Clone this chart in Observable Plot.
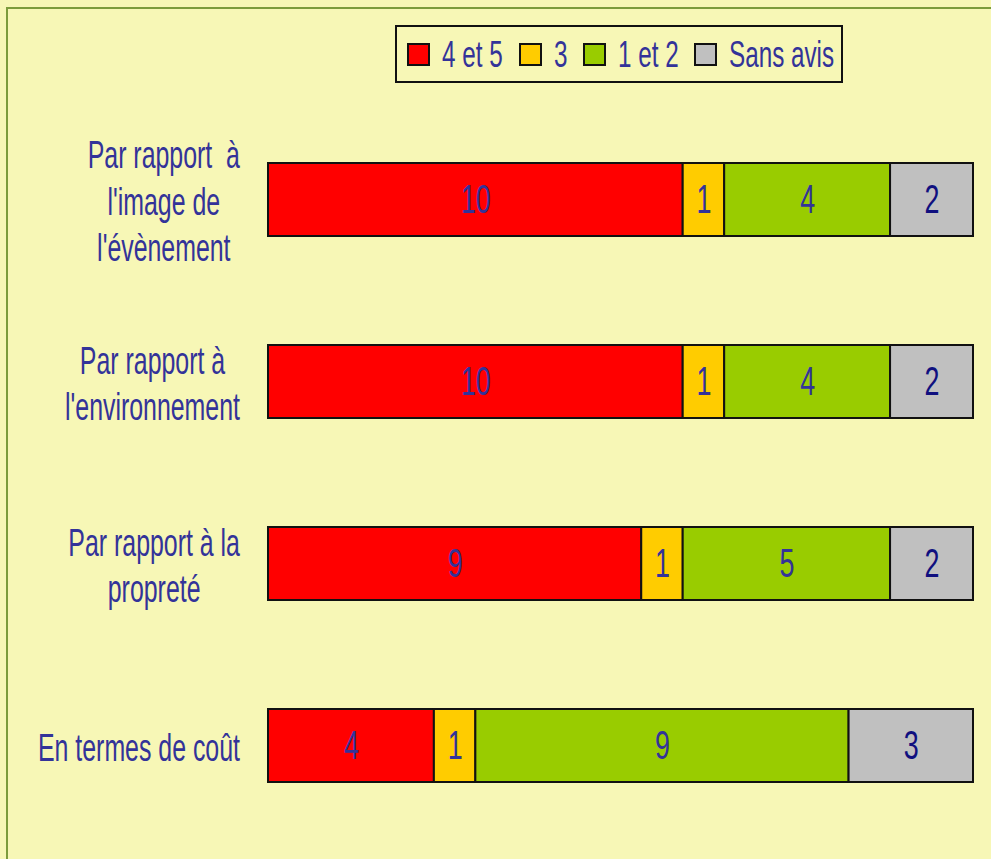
<!DOCTYPE html>
<html>
<head>
<meta charset="utf-8">
<script src="https://cdn.jsdelivr.net/npm/d3@7"></script>
<script src="https://cdn.jsdelivr.net/npm/@observablehq/plot@0.6"></script>
<style>
  html, body { margin: 0; padding: 0; background: #F7F7B6; }
  #wrap { position: relative; width: 991px; height: 859px; overflow: hidden; background: #F7F7B6; }
  #frame { position: absolute; left: 6px; top: 7px; width: 1200px; height: 1200px; border-left: 2px solid #7C9C3C; border-top: 2px solid #7C9C3C; box-sizing: border-box; }
  #chart { position: absolute; left: 0; top: 0; }
  #legend { position: absolute; left: 395px; top: 25px; width: 448px; height: 58px; box-sizing: border-box; border: 2px solid #111; display: flex; align-items: center; padding-left: 10px; font-family: "Liberation Sans", Arial, sans-serif; font-size: 37px; color: #333399; }
  .item { display: flex; align-items: center; margin-right: 16px; }
  .sw { width: 23px; height: 23px; box-sizing: border-box; border: 2px solid #111; margin-right: 12px; }
  .lt { display: inline-block; transform-origin: left center; white-space: pre; line-height: 1; }
</style>
</head>
<body>
<div id="wrap">
  <div id="frame"></div>
  <div id="chart"></div>
  <div id="legend"></div>
</div>
<script>
const categories = [
  "Par rapport  à\nl'image de\nl'évènement",
  "Par rapport à\nl'environnement",
  "Par rapport à la\npropreté",
  "En termes de coût"
];
const series = ["4 et 5", "3", "1 et 2", "Sans avis"];
const colors = ["#FF0000", "#FFCC00", "#99CC00", "#C0C0C0"];
const values45 = [10, 10, 9, 4];
const values3 = [1, 1, 1, 1];
const values12 = [4, 4, 5, 9];
const valuesSans = [2, 2, 2, 3];

const FONT = '"Liberation Sans", Arial, sans-serif';
const AXIS_FONT_SIZE = 38;

// horizontal squeeze so that the typeface looks condensed like the reference
const ctx = document.createElement("canvas").getContext("2d");
ctx.font = `${AXIS_FONT_SIZE}px ${FONT}`;
const SQUEEZE = 175 / ctx.measureText("l'environnement").width;

const seriesValues = [values45, values3, values12, valuesSans];
const data = [];
categories.forEach((c, i) => {
  series.forEach((s, j) => data.push({cat: c, series: s, value: seriesValues[j][i]}));
});

const chart = Plot.plot({
  width: 991,
  height: 859,
  marginLeft: 268,
  marginRight: 18,
  marginTop: 108,
  marginBottom: 23,
  style: {background: "transparent", fontFamily: FONT, color: "#333399", overflow: "visible"},
  x: {domain: [0, 17], axis: null},
  y: {domain: categories, paddingInner: 0.6, paddingOuter: 0.3, axis: null},
  color: {domain: series, range: colors},
  marks: [
    Plot.barX(data, Plot.stackX({x: "value", y: "cat", fill: "series", stroke: "#111", strokeWidth: 2})),
    Plot.text(data, Plot.stackX({x: "value", y: "cat", z: "series",
      text: d => d.series !== "Sans avis" ? String(d.value) : "", fill: "#333399", fontSize: 41})),
    Plot.text(data, Plot.stackX({x: "value", y: "cat", z: "series",
      text: d => d.series === "Sans avis" ? String(d.value) : "", fill: "#10107F", fontSize: 41})),
    Plot.axisY({tickSize: 0, textAnchor: "middle", lineHeight: 1.22, fontSize: AXIS_FONT_SIZE, fill: "#333399", label: null, tickPadding: 0})
  ]
});
document.getElementById("chart").appendChild(chart);

// narrow the glyphs horizontally
chart.querySelectorAll("text").forEach(t => {
  const x = +(t.getAttribute("x") || 0);
  const T = t.getAttribute("transform") || "";
  t.setAttribute("transform", `${T} translate(${x},0) scale(${SQUEEZE},1) translate(${-x},0)`);
});

// align y tick labels: centered lines, block right edge at 240
const svgLeft = chart.getBoundingClientRect().left;
chart.querySelectorAll('g[aria-label="y-axis tick label"] text').forEach(t => {
  const r = t.getBoundingClientRect();
  const dx = 240 - (r.right - svgLeft);
  t.setAttribute("transform", `translate(${dx},0) ` + t.getAttribute("transform"));
});

// legend
const legend = document.getElementById("legend");
series.forEach((s, i) => {
  const item = document.createElement("div");
  item.className = "item";
  const sw = document.createElement("div");
  sw.className = "sw";
  sw.style.background = colors[i];
  const lt = document.createElement("span");
  lt.className = "lt";
  lt.textContent = s;
  item.appendChild(sw);
  item.appendChild(lt);
  legend.appendChild(item);
});
legend.querySelectorAll(".lt").forEach(lt => {
  const w = lt.offsetWidth;
  lt.style.transform = `scaleX(${SQUEEZE})`;
  lt.style.marginRight = `${-(1 - SQUEEZE) * w}px`;
});
</script>
</body>
</html>
